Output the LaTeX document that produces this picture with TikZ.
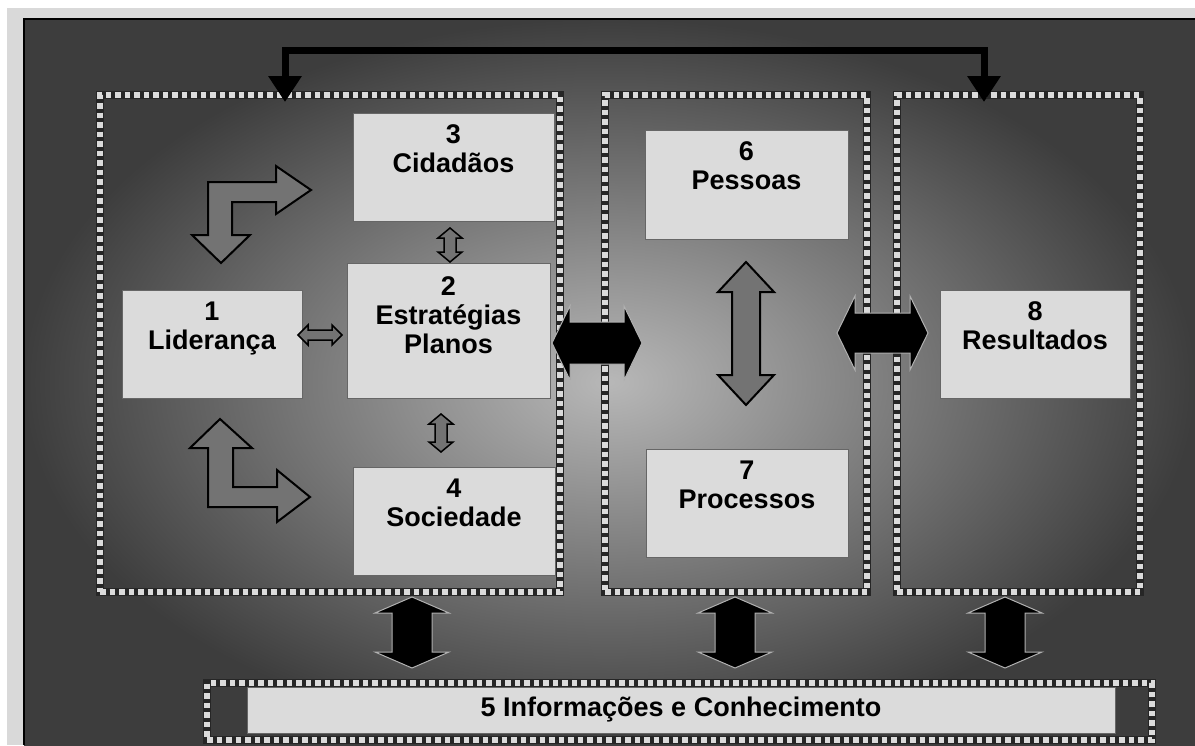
\documentclass[tikz,border=0pt]{standalone}
\usepackage{fontspec}
\setmainfont{Liberation Sans}
\usetikzlibrary{calc,arrows.meta,positioning}

\definecolor{panelin}{gray}{0.72}
\definecolor{panelout}{gray}{0.24}
\definecolor{boxfill}{gray}{0.86}
\definecolor{dotfill}{gray}{0.86}
\definecolor{arrowfill}{gray}{0.45}

\tikzset{
  group/.style={draw=dotfill, line width=5.5pt, dash pattern=on 5.5pt off 4pt,
    preaction={draw=black!85, line width=8.5pt, solid}, inner sep=0pt},
  block/.style={draw=black!60, line width=1pt, fill=boxfill, inner sep=0pt},
  lbl/.style={font=\bfseries\fontsize{27pt}{29pt}\selectfont, align=center, inner sep=0pt},
  grayarrow/.style={fill=arrowfill, draw=black, line width=2pt},
  blackarrow/.style={fill=black, draw=gray!60, line width=1pt},
  feedback/.style={line width=7pt,
    {Triangle[width=32pt 0,length=26pt 0 0]}-{Triangle[width=32pt 0,length=26pt 0 0]}}
}

% block arrow with two heads: style, first tip, second tip, shaft half, head half, head length
\newcommand{\dblarrowH}[6]{%
  \draw[#1] (#2) -- ($(#2)+(#6,-#5)$) -- ($(#2)+(#6,-#4)$) -- ($(#3)+(-#6,-#4)$)
    -- ($(#3)+(-#6,-#5)$) -- (#3) -- ($(#3)+(-#6,#5)$) -- ($(#3)+(-#6,#4)$)
    -- ($(#2)+(#6,#4)$) -- ($(#2)+(#6,#5)$) -- cycle;}
\newcommand{\dblarrowV}[6]{%
  \draw[#1] (#2) -- ($(#2)+(#5,#6)$) -- ($(#2)+(#4,#6)$) -- ($(#3)+(#4,-#6)$)
    -- ($(#3)+(#5,-#6)$) -- (#3) -- ($(#3)+(-#5,-#6)$) -- ($(#3)+(-#4,-#6)$)
    -- ($(#2)+(-#4,#6)$) -- ($(#2)+(-#5,#6)$) -- cycle;}

\begin{document}
\begin{tikzpicture}[x=1pt,y=-1pt]
  \useasboundingbox (0,0) rectangle (1195,745);
  \fill[white] (0,0) rectangle (1195,745);
  \fill[gray!30] (7,8) rectangle (1195,745);
  \shade[inner color=panelin, outer color=panelout] (24,19) rectangle (1195,745);
  \draw[line width=2pt] (24,745) -- (24,19) -- (1195,19);

  % dotted groups
  \node[group, minimum width=460pt, minimum height=497pt] (grpL) at (330,343.5) {};
  \node[group, minimum width=262pt, minimum height=497pt] (grpM) at (736,343.5) {};
  \node[group, minimum width=243pt, minimum height=497pt] (grpR) at (1018.5,343.5) {};
  \node[group, minimum width=945pt, minimum height=57pt] (grpB) at (679.5,711.5) {};

  % blocks
  \node[block, minimum width=180pt, minimum height=108pt] (lid) at (212,344) {};
  \node[block, minimum width=201pt, minimum height=108pt] (cid) at (453.5,167) {};
  \node[block, minimum width=203pt, minimum height=135pt] (est) at (448.5,330.5) {};
  \node[block, minimum width=202pt, minimum height=108pt] (soc) at (454,521) {};
  \node[block, minimum width=203pt, minimum height=109pt] (pes) at (746.5,184.5) {};
  \node[block, minimum width=202pt, minimum height=108pt] (pro) at (747,503) {};
  \node[block, minimum width=190pt, minimum height=108pt] (res) at (1035,344) {};
  \node[block, lbl, minimum width=868pt, minimum height=46pt] (info) at (681,710)
    {5 Informações e Conhecimento};

  \node[lbl, below=12pt of lid.north] (lidT) {1\\Liderança};
  \node[lbl, below=12pt of cid.north] (cidT) {3\\Cidadãos};
  \node[lbl, below=14pt of est.north] (estT) {2\\Estratégias\\Planos};
  \node[lbl, below=12pt of soc.north] (socT) {4\\Sociedade};
  \node[lbl, below=12pt of pes.north] (pesT) {6\\Pessoas};
  \node[lbl, below=12pt of pro.north] (proT) {7\\Processos};
  \node[lbl, below=12pt of res.north] (resT) {8\\Resultados};

  % feedback line on top
  \coordinate (fbL) at (285,102);
  \coordinate (fbR) at (984,102);
  \draw[feedback] (fbL) -- ++(0,-52) -| (fbR);

  % L-shaped arrows
  \draw[grayarrow] (208,182) -- (276,182) -- (276,166) -- (311,190) -- (276,214)
    -- (276,202) -- (232,202) -- (232,235) -- (250,235) -- (221,263) -- (192,235)
    -- (208,235) -- cycle;
  \draw[grayarrow] (220,419) -- (252,448) -- (233,448) -- (233,487) -- (277,487)
    -- (277,470) -- (310,497) -- (277,522) -- (277,507) -- (208,507) -- (208,448)
    -- (190,448) -- cycle;

  % small arrows
  \coordinate (s1a) at (450,228);  \coordinate (s1b) at (450,262);
  \coordinate (s2a) at (441,414);  \coordinate (s2b) at (441,452);
  \coordinate (s3a) at (298,335);  \coordinate (s3b) at (342,335);
  \dblarrowV{grayarrow, line width=1.5pt}{s1a}{s1b}{6}{12}{10}
  \dblarrowV{grayarrow, line width=1.5pt}{s2a}{s2b}{6}{12}{10}
  \dblarrowH{grayarrow, line width=1.5pt}{s3a}{s3b}{5}{10}{10}

  % big arrows
  \coordinate (h1a) at (552,343);  \coordinate (h1b) at (642,343);
  \coordinate (h2a) at (837,333);  \coordinate (h2b) at (928,333);
  \coordinate (v1a) at (746,262);  \coordinate (v1b) at (746,405);
  \dblarrowH{blackarrow}{h1a}{h1b}{21}{37}{18}
  \dblarrowH{blackarrow}{h2a}{h2b}{20}{37}{18}
  \dblarrowV{grayarrow}{v1a}{v1b}{14}{28}{30}

  \foreach \x [count=\i] in {412,735,1005} {
    \coordinate (up\i) at (\x,597);
    \coordinate (dn\i) at (\x,668);
    \dblarrowV{blackarrow}{up\i}{dn\i}{20}{37}{16}
  }
\end{tikzpicture}
\end{document}
